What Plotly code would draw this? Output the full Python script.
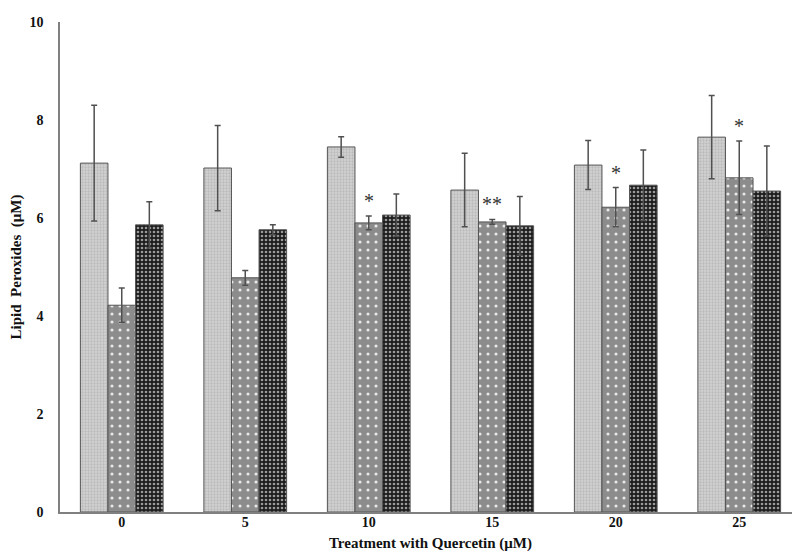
import plotly.graph_objects as go

categories = ["0", "5", "10", "15", "20", "25"]
series1 = [7.12, 7.02, 7.45, 6.57, 7.08, 7.65]
series1_err = [1.18, 0.87, 0.21, 0.75, 0.50, 0.85]
series2 = [4.22, 4.78, 5.90, 5.92, 6.22, 6.82]
series2_err = [0.35, 0.15, 0.14, 0.05, 0.40, 0.75]
series3 = [5.86, 5.76, 6.06, 5.84, 6.67, 6.55]
series3_err = [0.47, 0.10, 0.43, 0.60, 0.72, 0.92]
series2_sig = ["", "", "*", "**", "*", "*"]

font_family = "Liberation Serif, Times New Roman, serif"
edge = "#555555"
err_col = "#505050"

styles = [
    dict(bg="#d3d3d3", fg="#bababa", size=3, solidity=0.45),
    dict(bg="#8c8c8c", fg="#e8e8e8", size=8, solidity=0.12),
    dict(bg="#1c1c1c", fg="#9a9a9a", size=4, solidity=0.35),
]

fig = go.Figure()
for name, vals, errs, st in [
    ("Series 1", series1, series1_err, styles[0]),
    ("Series 2", series2, series2_err, styles[1]),
    ("Series 3", series3, series3_err, styles[2]),
]:
    fig.add_trace(go.Bar(
        x=categories, y=vals, name=name, showlegend=False,
        marker=dict(
            color=st["bg"],
            line=dict(color=edge, width=1),
            pattern=dict(shape=".", fgcolor=st["fg"], bgcolor=st["bg"],
                         size=st["size"], solidity=st["solidity"], fillmode="replace"),
        ),
        error_y=dict(type="data", array=errs, visible=True, color=err_col,
                     thickness=1.5, width=3),
    ))

for i, (v, e, s) in enumerate(zip(series2, series2_err, series2_sig)):
    if s:
        fig.add_annotation(x=i, y=v + e, text=s, showarrow=False,
                           yanchor="bottom", yshift=2,
                           font=dict(family=font_family, size=20, color="#333333"))

fig.update_layout(
    width=800, height=558,
    margin=dict(l=52, r=7, t=14, b=54),
    paper_bgcolor="white", plot_bgcolor="white",
    barmode="group", bargap=0.33, bargroupgap=0,
    font=dict(family=font_family, color="#111111"),
)
fig.update_xaxes(
    type="category", range=[-0.5, len(categories) - 0.5], automargin=False,
    showline=True, linecolor="#808080", linewidth=1.5,
    showgrid=False, ticks="", ticklabelstandoff=-4,
    tickfont=dict(family=font_family, size=14, weight="bold"),
    title=dict(text="Treatment with Quercetin (μM)",
               font=dict(family=font_family, size=15, weight="bold"), standoff=9),
)
fig.update_yaxes(
    range=[0, 10], dtick=2, automargin=False,
    showline=True, linecolor="#808080", linewidth=1.5,
    showgrid=False, zeroline=False, ticks="", ticklabelstandoff=12,
    tickfont=dict(family=font_family, size=14, weight="bold"),
    title=dict(text="Lipid  Peroxides  (μM)",
               font=dict(family=font_family, size=15, weight="bold"), standoff=4),
)

fig.write_html("out.html")
